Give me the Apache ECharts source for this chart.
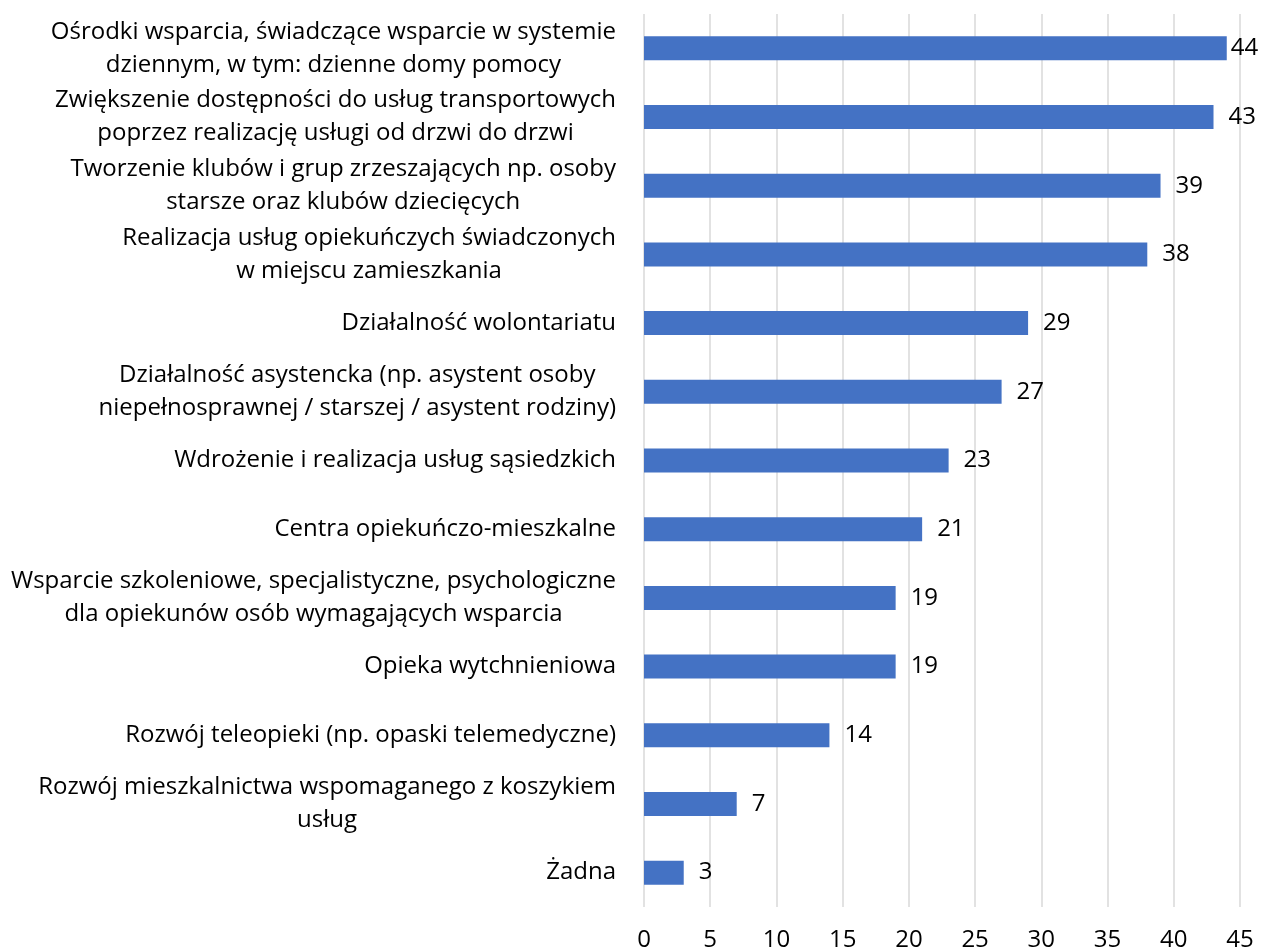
<!DOCTYPE html>
<html>
<head>
<meta charset="utf-8">
<script src="https://cdn.jsdelivr.net/npm/echarts@6/dist/echarts.min.js"></script>
<style>
  html, body { margin: 0; padding: 0; background: #fff; }
  #chart { width: 1265px; height: 952px; }
</style>
</head>
<body>
<div id="chart"></div>
<script>
// categories, top to bottom
const categories = [
  "Ośrodki wsparcia, świadczące wsparcie w systemie\ndziennym, w tym: dzienne domy pomocy",
  "Zwiększenie dostępności do usług transportowych\npoprzez realizację usługi od drzwi do drzwi",
  "Tworzenie klubów i grup zrzeszających np. osoby\nstarsze oraz klubów dziecięcych",
  "Realizacja usług opiekuńczych świadczonych\nw miejscu zamieszkania",
  "Działalność wolontariatu",
  "Działalność asystencka (np. asystent osoby\nniepełnosprawnej / starszej / asystent rodziny)",
  "Wdrożenie i realizacja usług sąsiedzkich",
  "Centra opiekuńczo-mieszkalne",
  "Wsparcie szkoleniowe, specjalistyczne, psychologiczne\ndla opiekunów osób wymagających wsparcia",
  "Opieka wytchnieniowa",
  "Rozwój teleopieki (np. opaski telemedyczne)",
  "Rozwój mieszkalnictwa wspomaganego z koszykiem\nusług",
  "Żadna"
];
const values = [44, 43, 39, 38, 29, 27, 23, 21, 19, 19, 14, 7, 3];

const font = "'Open Sans', sans-serif";
const fs = 24;
const chart = echarts.init(document.getElementById('chart'));

// the top label sits closer to its bar so it stays on the canvas
const barData = values.map(function (v, i) {
  return i === 0 ? { value: v, label: { distance: 4 } } : v;
});

chart.setOption({
  animation: false,
  grid: { left: 644, right: 25, top: 14, bottom: 44, containLabel: false },
  xAxis: {
    type: 'value',
    min: 0,
    max: 45,
    interval: 5,
    axisLine: { show: false },
    axisTick: { show: false },
    splitLine: { lineStyle: { color: '#d9d9d9', width: 1.5 } },
    axisLabel: { color: '#000', fontSize: fs, fontFamily: font, margin: 21 }
  },
  yAxis: {
    type: 'category',
    inverse: true,
    data: categories,
    axisLine: { show: false },
    axisTick: { show: false },
    axisLabel: {
      margin: 28,
      color: '#000',
      fontSize: fs,
      fontFamily: font,
      lineHeight: 33,
      formatter: function (v) {
        return v.split('\n').map(function (s) { return '{c|' + s + '}'; }).join('\n');
      },
      rich: {
        c: { align: 'center', color: '#000', fontSize: fs, fontFamily: font, lineHeight: 33 }
      }
    }
  },
  series: [{
    type: 'bar',
    data: barData,
    barWidth: 24,
    itemStyle: { color: '#4472c4' },
    label: {
      show: true,
      position: 'right',
      distance: 15,
      color: '#000',
      fontSize: fs,
      fontFamily: font
    }
  }]
});
</script>
</body>
</html>
